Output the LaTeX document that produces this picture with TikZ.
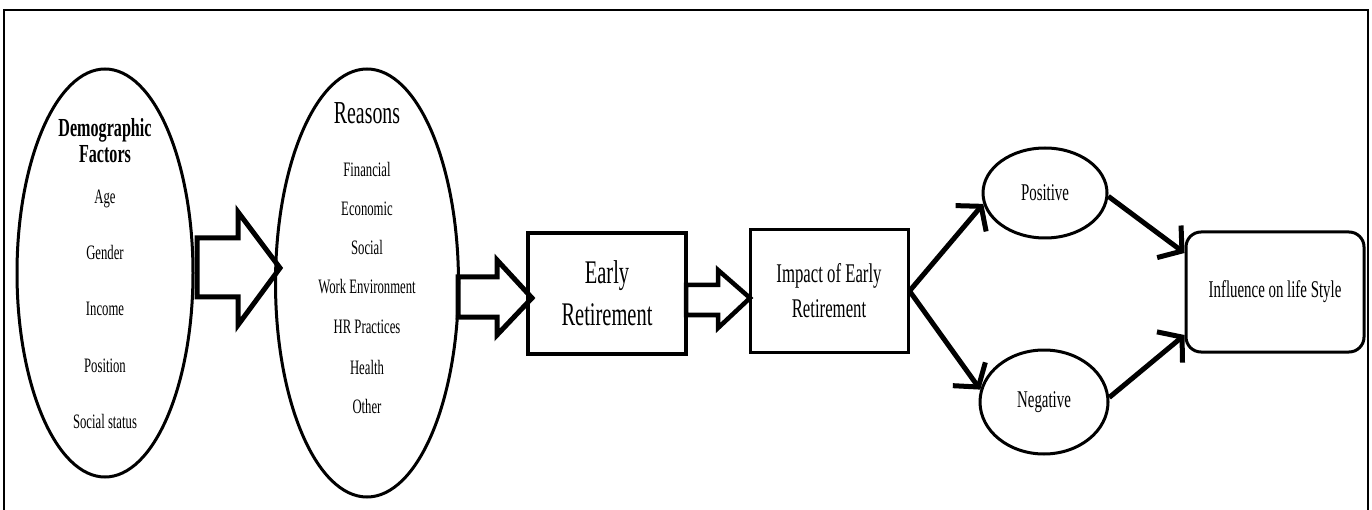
\documentclass[tikz,border=0pt]{standalone}
\usepackage{fontspec}
\setmainfont{Liberation Serif}[FakeStretch=0.62]
\usetikzlibrary{shapes.geometric,arrows.meta}
\begin{document}
\begin{tikzpicture}[x=1pt,y=-1pt,
  ell/.style={ellipse,draw,line width=3pt,inner sep=0pt},
  box/.style={rectangle,draw,line width=4pt,inner sep=0pt,align=center},
  txt/.style={inner sep=0pt,anchor=base},
  item/.style={txt,font=\fontsize{20.5}{24}\selectfont},
  head/.style={txt,font=\bfseries\fontsize{26}{30}\selectfont},
  fat/.style={draw,line width=5pt,line join=miter},
  conn/.style={line width=5pt,-{Straight Barb[length=16pt,width=40pt]}}
]
\useasboundingbox (0,0) rectangle (1372,510);
% frame
\draw[line width=2pt] (4,515) -- (4,10) -- (1368,10) -- (1368,515);

% left ellipses
\node[ell,minimum width=176pt,minimum height=408pt] (demo) at (105,273) {};
\node[ell,minimum width=183pt,minimum height=428pt] (reas) at (367,283) {};

\node[head] (d1) at (105,137) {Demographic};
\node[head] (d2) at (105,163) {Factors};
\node[item] (d3) at (105,204) {Age};
\node[item] (d4) at (105,260) {Gender};
\node[item] (d5) at (105,316) {Income};
\node[item] (d6) at (105,372) {Position};
\node[item] (d7) at (105,428) {Social status};

\node[txt,font=\fontsize{32}{38}\selectfont] (r0) at (367,124) {Reasons};
\node[item] (r1) at (367,177) {Financial};
\node[item] (r2) at (367,216) {Economic};
\node[item] (r3) at (367,255) {Social};
\node[item] (r4) at (367,294) {Work Environment};
\node[item] (r5) at (367,334) {HR Practices};
\node[item] (r6) at (367,374) {Health};
\node[item] (r7) at (367,413) {Other};

% boxes
\node[box,minimum width=158pt,minimum height=121pt,font=\fontsize{33}{42}\selectfont] (early) at (607,293.5) {Early\\Retirement};
\node[box,line width=3pt,minimum width=158pt,minimum height=122pt,font=\fontsize{27}{35}\selectfont] (impact) at (829,291) {Impact of Early\\Retirement};
\node[ell,minimum width=124pt,minimum height=90pt,font=\fontsize{24}{28}\selectfont] (pos) at (1045,193) {Positive};
\node[ell,minimum width=128pt,minimum height=104pt,font=\fontsize{24}{28}\selectfont] (neg) at (1044,402) {Negative};
\node[box,line width=3pt,rounded corners=15pt,minimum width=178pt,minimum height=120pt,font=\fontsize{24}{28}\selectfont] (infl) at (1275,292) {Influence on life Style};

% block arrows
\draw[fat] (197,238) -- (238,238) -- (238,212) -- (280,268) -- (238,325) -- (238,297) -- (197,297) -- cycle;
\draw[fat] (458,277) -- (497,277) -- (497,260) -- (532,298) -- (497,335) -- (497,317) -- (458,317) -- cycle;
\draw[fat,line width=4.5pt] (686,285) -- (718,285) -- (718,270) -- (750,298) -- (718,328) -- (718,315) -- (686,315) -- cycle;

% connectors
\draw[conn] (impact.east) -- (pos.190);
\draw[conn] (impact.east) -- (neg.169);
\draw[conn] (pos.-3) -- ([yshift=39pt]infl.west);
\draw[conn] (neg.4) -- ([yshift=-43pt]infl.west);
\end{tikzpicture}
\end{document}
